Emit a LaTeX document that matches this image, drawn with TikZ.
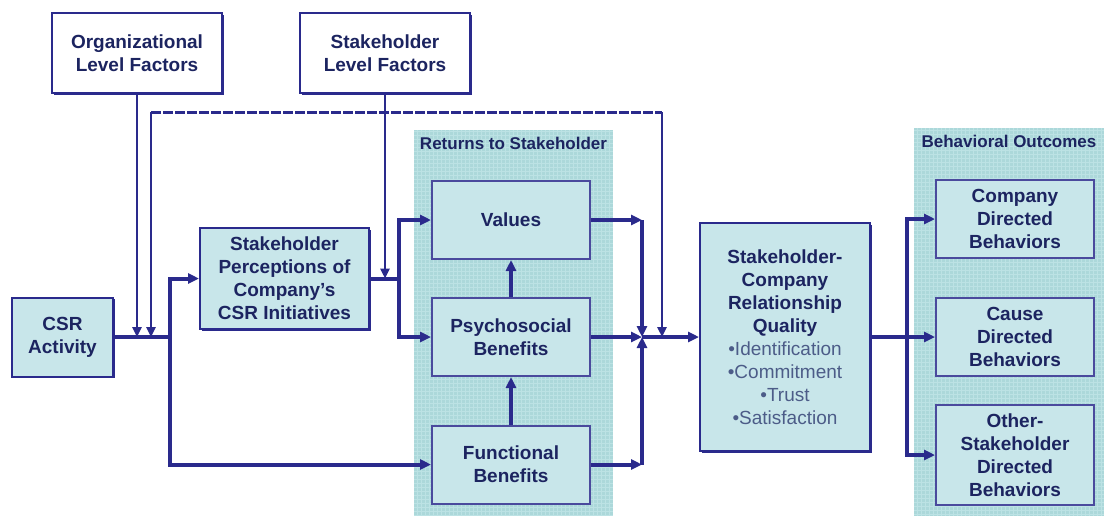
\documentclass[tikz,border=0pt]{standalone}
\usepackage{fontspec}
\setmainfont{Liberation Sans}
\usetikzlibrary{arrows.meta}
\usetikzlibrary{shadows}

\definecolor{navy}{RGB}{42,42,140}
\definecolor{ink}{RGB}{28,36,96}
\definecolor{boxfill}{RGB}{200,230,234}
\definecolor{panelfill}{RGB}{172,216,218}
\definecolor{panelgrid}{RGB}{188,226,228}
\definecolor{bulletink}{RGB}{76,92,136}

\tikzset{
  basebox/.style={rectangle, inner sep=0pt, align=center, text=ink,
    font=\fontsize{19}{23}\selectfont\bfseries},
  factor/.style={basebox, draw=navy, line width=2pt, fill=white,
    minimum width=170pt, minimum height=80pt,
    general shadow={fill=navy, shadow xshift=2pt, shadow yshift=-2pt}},
  mainbox/.style={basebox, draw=navy, line width=2pt, fill=boxfill,
    general shadow={fill=navy, shadow xshift=1.5pt, shadow yshift=-1.5pt}},
  innerbox/.style={basebox, draw=navy!85!white, line width=2pt, fill=boxfill,
    minimum width=158pt, minimum height=78pt},
  panel/.style={rectangle, fill=panelfill, inner sep=0pt,
    path picture={\draw [panelgrid, line width=0.3pt, step=4pt]
      (path picture bounding box.south west) grid (path picture bounding box.north east);}},
  header/.style={anchor=north, inner sep=0pt, text=ink,
    font=\fontsize{17}{18}\selectfont\bfseries},
  wire/.style={navy, line width=4pt},
  flow/.style={wire, -{Triangle[length=11pt,width=10pt]}},
  link/.style={navy, line width=2.5pt, -{Triangle[length=10pt,width=9pt]}},
  feedback/.style={navy, line width=3pt, dash pattern=on 10pt off 2pt},
}

\begin{document}
\begin{tikzpicture}[x=1pt, y=-1pt]
  \useasboundingbox (0,0) rectangle (1107,520);

  % shaded groups
  \node[panel, minimum width=199pt, minimum height=386pt] (ReturnsPanel) at (513.5,323) {};
  \node[header] at ([yshift=-7pt]ReturnsPanel.north) {Returns to Stakeholder};
  \node[panel, minimum width=190pt, minimum height=388pt] (OutcomesPanel) at (1009,322) {};
  \node[header] at ([yshift=-7pt]OutcomesPanel.north) {Behavioral Outcomes};

  % boxes
  \node[factor] (OrgFactors) at (137,53) {Organizational\\Level Factors};
  \node[factor] (StakeFactors) at (385,53) {Stakeholder\\Level Factors};
  \node[mainbox, minimum width=101pt, minimum height=79pt] (CSRActivity) at (62.5,337) {CSR\\Activity};
  \node[mainbox, minimum width=169pt, minimum height=101pt] (Perceptions) at (284.5,278.5)
    {Stakeholder\\Perceptions of\\Company’s\\CSR Initiatives};

  \node[innerbox] (Values) at (511,220) {Values};
  \node[innerbox] (Psychosocial) at (511,337) {Psychosocial\\Benefits};
  \node[innerbox] (Functional) at (511,464.5) {Functional\\Benefits};

  \node[mainbox, minimum width=170pt, minimum height=228pt] (Relationship) at (785,337)
    {Stakeholder-\\Company\\Relationship\\Quality\\
     {\mdseries\color{bulletink}•Identification}\\
     {\mdseries\color{bulletink}•Commitment}\\
     {\mdseries\color{bulletink}•Trust}\\
     {\mdseries\color{bulletink}•Satisfaction}};

  \node[innerbox] (CompanyBeh) at (1015,219) {Company\\Directed\\Behaviors};
  \node[innerbox] (CauseBeh) at (1015,337) {Cause\\Directed\\Behaviors};
  \node[innerbox, minimum height=100pt] (OtherBeh) at (1015,455) {Other-\\Stakeholder\\Directed\\Behaviors};

  % junctions
  \coordinate (OrgIn) at (137,337);
  \coordinate (FeedbackIn) at (151,337);
  \coordinate (SplitA) at (170,337);
  \coordinate (StakeIn) at (385,278.5);
  \coordinate (SplitB) at (399,278.5);
  \coordinate (JoinTop) at (642,220);
  \coordinate (JoinMid) at (642,337);
  \coordinate (JoinLow) at (642,464.5);
  \coordinate (FeedbackOut) at (662,337);
  \coordinate (FbCornerL) at (151,112);
  \coordinate (FbCornerR) at (662,112);
  \coordinate (FanOut) at (907,337);

  % connectors
  \draw [wire] (CSRActivity.east) -- (SplitA);
  \draw [flow] (SplitA) |- (Perceptions.west);
  \draw [flow] (SplitA) |- (Functional.west);
  \draw [link] (OrgFactors) -- (OrgIn);
  \draw [link] (FbCornerL) -- (FeedbackIn);

  \draw [wire] (Perceptions.east) -- (SplitB);
  \draw [link] (StakeFactors) -- (StakeIn);
  \draw [flow] (SplitB) |- (Values.west);
  \draw [flow] (SplitB) |- (Psychosocial.west);

  \draw [flow] (Psychosocial) -- (Values);
  \draw [flow] (Functional) -- (Psychosocial);

  \draw [flow] (Values.east) -- (JoinTop);
  \draw [flow] (JoinTop) -- (JoinMid);
  \draw [flow] (Functional.east) -- (JoinLow);
  \draw [flow] (JoinLow) -- (JoinMid);
  \draw [flow] (Psychosocial.east) -- (JoinMid);
  \draw [flow] (JoinMid) -- (Relationship.west);

  % feedback loop
  \draw [feedback] (FbCornerL) -- (FbCornerR);
  \draw [link] (FbCornerR) -- (FeedbackOut);

  \draw [wire] (Relationship.east) -- (FanOut);
  \draw [flow] (FanOut) |- (CompanyBeh.west);
  \draw [flow] (FanOut) -- (CauseBeh.west);
  \draw [flow] (FanOut) |- (OtherBeh.west);
\end{tikzpicture}
\end{document}
